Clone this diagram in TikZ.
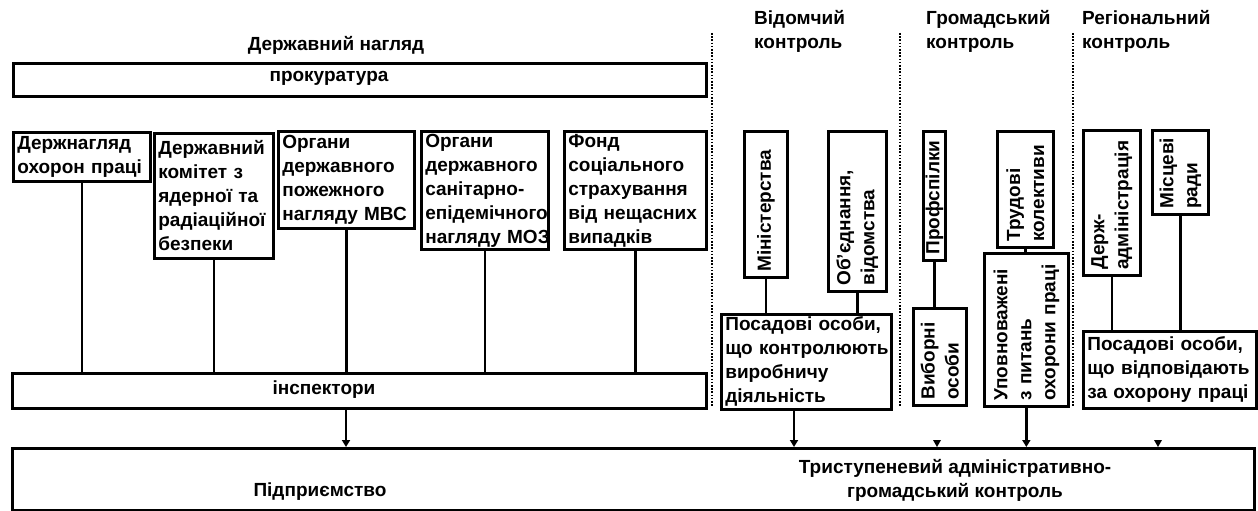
\documentclass[tikz,border=0pt]{standalone}
\usepackage{fontspec}
\setmainfont{Liberation Sans}
\usetikzlibrary{arrows.meta}

\begin{document}
\begin{tikzpicture}[
  x=1pt,y=-1pt,
  every node/.style={font=\bfseries\fontsize{19pt}{24pt}\selectfont},
  box/.style={draw,line width=2.7pt,anchor=north west,align=left,inner xsep=4pt,inner ysep=0pt},
  vbox/.style={draw,line width=2.7pt,rotate=90,anchor=north west,align=left,inner xsep=6pt,inner ysep=0pt},
  conn/.style={line width=2.7pt},
  arr/.style={conn,-{Triangle[width=8pt,length=7pt]}},
  sep/.style={line width=2.2pt,dash pattern=on 1.6pt off 1.6pt},
  head/.style={align=left,anchor=west,inner sep=0pt}
]
\useasboundingbox (0,0) rectangle (1258,511);

% titles
\node (ttl) at (336,45) {Державний нагляд};
\node[head] (vid) at (754,31) {Відомчий\\контроль};
\node[head] (grom) at (926,31) {Громадський\\контроль};
\node[head] (reg) at (1082,31) {Регіональний\\контроль};
\foreach \x in {712,900,1073}
  \draw[sep] (\x,33) -- (\x,407);

% state supervision
\node[box,minimum width=693pt,minimum height=33pt] (prok) at (12,62) {};
\node (prokt) at (329,78) {прокуратура};
\node[box,text width=129pt,minimum height=49pt] (b1) at (12,131) {Держнагляд\\охорон~праці};
\node[box,text width=111pt,minimum height=125pt] (b2) at (153,132) {Державний\\комітет~з\\ядерної~та\\радіаційної\\ безпеки};
\node[box,text width=128pt,minimum height=97pt] (b3) at (277,130) {Органи\\державного\\пожежного\\нагляду~МВС};
\node[box,text width=119pt,minimum height=118pt] (b4) at (420,130) {Органи\\державного\\санітарно-\\епідемічного\\нагляду~МОЗ};
\node[box,text width=134pt,minimum height=118pt] (b5) at (563,130) {Фонд\\соціального\\страхування\\від~нещасних\\випадків};
\node[box,minimum width=694pt,minimum height=35pt] (insp) at (11,372) {};
\node (inspt) at (324,390) {інспектори};
\foreach \i in {1,...,5}
  \draw[conn] (b\i.south) -- (b\i.south |- insp.north);

% departmental control
\node[vbox,text width=134pt,minimum height=43pt] (min) at (743,279) {Міністерства};
\node[vbox,text width=148pt,minimum height=58pt] (obj) at (827,293) {Об’єднання,\\відомства};
\node[box,text width=162pt,minimum height=95pt] (pos1) at (720,313) {Посадові~особи,\\що~контролюють\\виробничу\\діяльність};
\draw[conn] (min.west) -- (min.west |- pos1.north);
\draw[conn] (obj.west) -- (obj.west |- pos1.north);

% public control
\node[vbox,text width=117pt,minimum height=22pt] (prof) at (922,262) {Профспілки};
\node[vbox,text width=85pt,minimum height=53pt] (vyb) at (912,407) {Виборні\\особи};
\node[vbox,text width=104pt,minimum height=56pt] (trud) at (996,249) {Трудові\\колективи};
\node[vbox,text width=141pt,minimum height=84pt] (upov) at (983,408) {Уповноважені\\з~питань\\охорони~праці};
\draw[conn] (prof.west) -- (prof.west |- vyb.east);
\draw[conn] (trud.west) -- (trud.west |- upov.east);

% regional control
\node[vbox,text width=133pt,minimum height=57pt] (derzh) at (1082,277) {Держ-\\адміністрація};
\node[vbox,text width=72pt,minimum height=56pt] (misc) at (1151,216) {Місцеві\\ради};
\node[box,text width=165pt,minimum height=77pt] (pos2) at (1082,330) {Посадові~особи,\\що~відповідають\\за~охорону~праці};
\draw[conn] (derzh.west) -- (derzh.west |- pos2.north);
\draw[conn] (misc.west) -- (misc.west |- pos2.north);

% enterprise
\node[box,minimum width=1242pt,minimum height=62pt] (firm) at (11,447) {};
\node (pidpr) at (320,492) {Підприємство};
\node[align=center] (tryst) at (955,480) {Триступеневий адміністративно-\\громадський контроль};
\coordinate (ai) at (346,447);
\coordinate (ap) at (794,447);
\draw[arr] (ai |- insp.south) -- (ai);
\draw[arr] (ap |- pos1.south) -- (ap);
\draw[arr] (upov.west) -- (upov.west |- firm.north);
\foreach \x in {937,1158}
  \fill (\x-4,440) -- (\x+4,440) -- (\x,447) -- cycle;
\end{tikzpicture}
\end{document}
